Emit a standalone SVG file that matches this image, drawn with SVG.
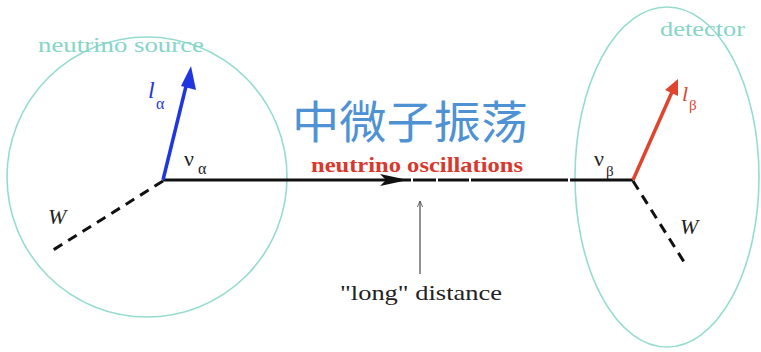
<svg xmlns="http://www.w3.org/2000/svg" width="761" height="352" viewBox="0 0 761 352">
<defs>
<marker id="ahOpen" viewBox="0 0 10 10" refX="9" refY="5" markerWidth="7" markerHeight="7" orient="auto" markerUnits="userSpaceOnUse"><path d="M0,1 L9,5 L0,9" fill="none" stroke="#555" stroke-width="1.2"/></marker>
</defs>
<style>
.region{fill:none;stroke:#95dccf;stroke-width:1.6}
text{font-family:"Liberation Serif","Times New Roman",Times,serif}
.cjk{font-family:"Noto Sans CJK SC",sans-serif}
.teal{fill:#86d5c7}
.sym{fill:#222}
.ital{font-style:italic}
.dash{stroke:#111;stroke-width:3;stroke-dasharray:10,7;fill:none}
</style>
<rect width="761" height="352" fill="#fff"/>
<g id="source">
<circle class="region" cx="147" cy="177" r="140"/>
<text class="teal" x="38" y="52" font-size="22" textLength="166" lengthAdjust="spacingAndGlyphs">neutrino source</text>
</g>
<g id="detector">
<ellipse class="region" cx="667" cy="177" rx="92" ry="170"/>
<text class="teal" x="660" y="36" font-size="22" textLength="85" lengthAdjust="spacingAndGlyphs">detector</text>
</g>
<g id="connectors">
<line x1="163" y1="180" x2="633" y2="180" stroke="#111" stroke-width="3"/>
<path d="M380,174 L408,180 L380,186 L386,180 z" fill="#111"/>
<g stroke="#fff" stroke-width="4">
<line x1="411" y1="180" x2="413" y2="180"/>
<line x1="436" y1="180" x2="438" y2="180"/>
<line x1="469" y1="180" x2="471" y2="180"/>
<line x1="568" y1="180" x2="570" y2="180"/>
</g>
<line x1="163" y1="180" x2="188" y2="78" stroke="#1f35e0" stroke-width="3.5"/>
<path d="M181,86 L191,66 L196,90 z" fill="#1f35e0"/>
<line x1="163" y1="181" x2="50" y2="252" class="dash"/>
<line x1="633" y1="180" x2="672" y2="92" stroke="#e0442e" stroke-width="3.5"/>
<path d="M665,90 L678,79 L678,96 z" fill="#e0442e"/>
<line x1="633" y1="181" x2="686" y2="265" class="dash"/>
<line x1="420" y1="274" x2="420" y2="201" stroke="#555" stroke-width="1.3" marker-end="url(#ahOpen)"/>
</g>
<g id="labels">
<text x="148" y="98" font-style="italic" font-size="24" fill="#1f35e0">l</text>
<text x="156" y="109" font-size="16" fill="#1f35e0">α</text>
<text class="sym" x="184" y="166" font-size="22">ν</text>
<text class="sym" x="198" y="174" font-size="16">α</text>
<text class="sym ital" x="48" y="224" font-size="22">W</text>
<text x="682" y="101" font-style="italic" font-size="22" fill="#e0442e">l</text>
<text x="689" y="110" font-size="15" fill="#e0442e">β</text>
<text class="sym" x="594" y="166" font-size="22">ν</text>
<text class="sym" x="606" y="176" font-size="15">β</text>
<text class="sym ital" x="680" y="234" font-size="22">W</text>
<text class="cjk" x="292" y="139" font-size="45" fill="#4f92d4" textLength="236" lengthAdjust="spacingAndGlyphs">中微子振荡</text>
<text x="311" y="172" font-size="22" font-weight="bold" fill="#d9382c" textLength="212" lengthAdjust="spacingAndGlyphs">neutrino oscillations</text>
<text class="sym" x="340" y="300" font-size="21" textLength="162" lengthAdjust="spacingAndGlyphs">"long" distance</text>
</g>
</svg>
